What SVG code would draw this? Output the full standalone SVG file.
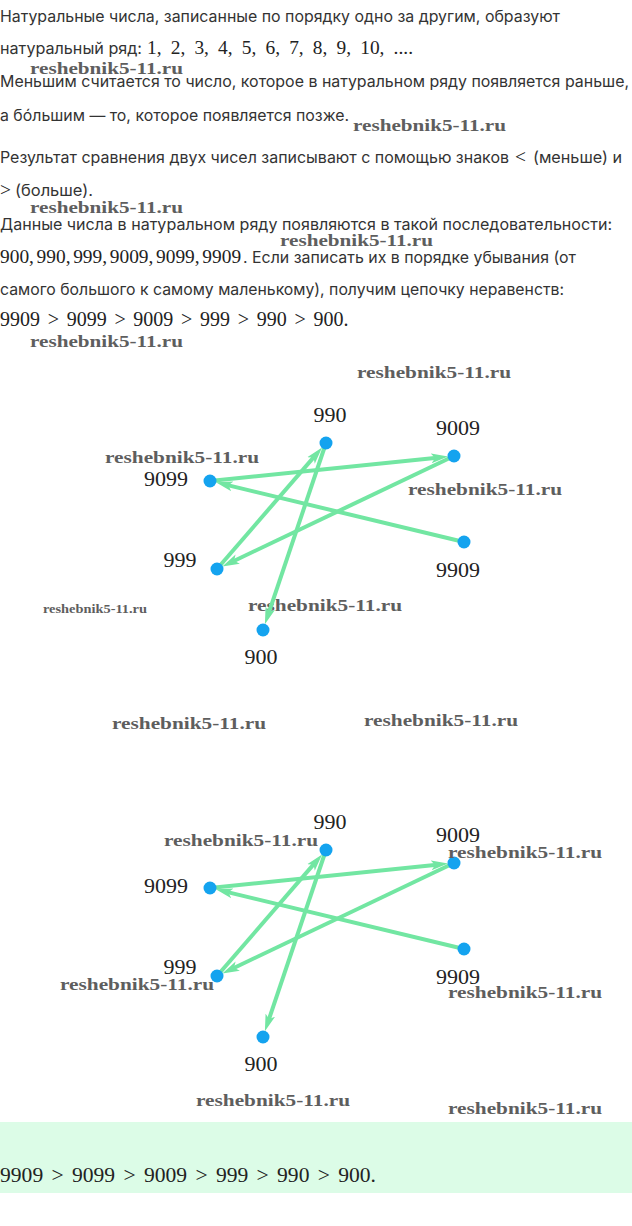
<svg xmlns="http://www.w3.org/2000/svg" width="632" height="1226" viewBox="0 0 632 1226">
<style>
.t{font-family:Inter,"Noto Sans",sans-serif;font-size:16px;fill:#333}
.m{font-family:"Liberation Serif","DejaVu Serif",serif;font-size:19.4px;fill:#222}
.w{font-family:"Liberation Serif","DejaVu Serif",serif;font-size:17px;font-weight:bold;fill:#5e5e5e}
.lbl{font-family:"Liberation Serif","DejaVu Serif",serif;font-size:22px;fill:#222;text-anchor:middle}
.dot{fill:#14a3ef}
.edge{stroke:#72e6a2;stroke-width:4;fill:none;marker-end:url(#ah)}
</style>
<defs>
<marker id="ah" markerUnits="userSpaceOnUse" markerWidth="20" markerHeight="12" refX="6" refY="6" orient="auto">
<path d="M0,1 L17,6 L0,11 L4,6 z" fill="#72e6a2"/>
</marker>
</defs>
<rect width="632" height="1226" fill="#fff"/>

<g id="text">
<text class="t" x="0" y="22" textLength="560" lengthAdjust="spacingAndGlyphs">Натуральные числа, записанные по порядку одно за другим, образуют</text>
<text class="t" x="0" y="54" textLength="142" lengthAdjust="spacingAndGlyphs">натуральный ряд:</text>
<text class="m" x="147" y="54" style="word-spacing:4.3px">1, 2, 3, 4, 5, 6, 7, 8, 9, 10, ....</text>
<text class="t" x="0" y="87" textLength="629" lengthAdjust="spacingAndGlyphs">Меньшим считается то число, которое в натуральном ряду появляется раньше,</text>
<text class="t" x="0" y="121" textLength="349" lengthAdjust="spacingAndGlyphs">а бо́льшим — то, которое появляется позже.</text>
<text class="t" x="0" y="163" textLength="509" lengthAdjust="spacingAndGlyphs">Результат сравнения двух чисел записывают с помощью знаков</text>
<text class="m" x="515" y="163">&lt;</text>
<text class="t" x="533" y="163" textLength="89" lengthAdjust="spacingAndGlyphs">(меньше) и</text>
<text class="m" x="0" y="196">&gt;</text>
<text class="t" x="15" y="196" textLength="78" lengthAdjust="spacingAndGlyphs">(больше).</text>
<text class="t" x="0" y="230" textLength="612" lengthAdjust="spacingAndGlyphs">Данные числа в натуральном ряду появляются в такой последовательности:</text>
<text class="m" x="0" y="263" style="word-spacing:-2.2px">900, 990, 999, 9009, 9099, 9909</text>
<text class="t" x="243" y="263" textLength="333" lengthAdjust="spacingAndGlyphs">. Если записать их в порядке убывания (от</text>
<text class="t" x="0" y="295" textLength="564" lengthAdjust="spacingAndGlyphs">самого большого к самому маленькому), получим цепочку неравенств:</text>
<text class="m" x="0" y="326" style="font-size:20px;word-spacing:2.7px">9909 &gt; 9099 &gt; 9009 &gt; 999 &gt; 990 &gt; 900.</text>
</g>

<g id="watermarks">
<text class="w" x="30" y="74" textLength="153" lengthAdjust="spacingAndGlyphs">reshebnik5-11.ru</text>
<text class="w" x="353" y="131" textLength="153" lengthAdjust="spacingAndGlyphs">reshebnik5-11.ru</text>
<text class="w" x="30" y="213" textLength="153" lengthAdjust="spacingAndGlyphs">reshebnik5-11.ru</text>
<text class="w" x="280" y="246" textLength="153" lengthAdjust="spacingAndGlyphs">reshebnik5-11.ru</text>
<text class="w" x="30" y="347" textLength="153" lengthAdjust="spacingAndGlyphs">reshebnik5-11.ru</text>
<text class="w" x="357" y="378" textLength="154" lengthAdjust="spacingAndGlyphs">reshebnik5-11.ru</text>
<text class="w" x="105" y="463" textLength="154" lengthAdjust="spacingAndGlyphs">reshebnik5-11.ru</text>
<text class="w" x="408" y="495" textLength="154" lengthAdjust="spacingAndGlyphs">reshebnik5-11.ru</text>
<text class="w" x="43" y="613" textLength="104" lengthAdjust="spacingAndGlyphs" style="font-size:11.5px">reshebnik5-11.ru</text>
<text class="w" x="248" y="611" textLength="154" lengthAdjust="spacingAndGlyphs">reshebnik5-11.ru</text>
<text class="w" x="112" y="729" textLength="154" lengthAdjust="spacingAndGlyphs">reshebnik5-11.ru</text>
<text class="w" x="364" y="726" textLength="154" lengthAdjust="spacingAndGlyphs">reshebnik5-11.ru</text>
</g>

<g id="diagram1">
<g id="connectors1">
<line class="edge" x1="464" y1="542" x2="226.5" y2="484.9"/>
<line class="edge" x1="210" y1="481" x2="437.1" y2="457.7"/>
<line class="edge" x1="454" y1="456" x2="232.3" y2="561.7"/>
<line class="edge" x1="217" y1="569" x2="314.9" y2="455.9"/>
<line class="edge" x1="326" y1="443" x2="268.4" y2="613.9"/>
</g>
<g id="n1-990"><circle class="dot" cx="326" cy="443" r="6.5"/><text class="lbl" x="330" y="422">990</text></g>
<g id="n1-9009"><circle class="dot" cx="454" cy="456" r="6.5"/><text class="lbl" x="458" y="435">9009</text></g>
<g id="n1-9099"><circle class="dot" cx="210" cy="481" r="6.5"/><text class="lbl" x="166" y="486">9099</text></g>
<g id="n1-999"><circle class="dot" cx="217" cy="569" r="6.5"/><text class="lbl" x="180" y="567">999</text></g>
<g id="n1-9909"><circle class="dot" cx="464" cy="542" r="6.5"/><text class="lbl" x="458" y="577">9909</text></g>
<g id="n1-900"><circle class="dot" cx="263" cy="630" r="6.5"/><text class="lbl" x="261" y="664">900</text></g>
</g>

<g id="diagram2" transform="translate(0,407)">
<g id="connectors2">
<line class="edge" x1="464" y1="542" x2="226.5" y2="484.9"/>
<line class="edge" x1="210" y1="481" x2="437.1" y2="457.7"/>
<line class="edge" x1="454" y1="456" x2="232.3" y2="561.7"/>
<line class="edge" x1="217" y1="569" x2="314.9" y2="455.9"/>
<line class="edge" x1="326" y1="443" x2="268.4" y2="613.9"/>
</g>
<g id="n2-990"><circle class="dot" cx="326" cy="443" r="6.5"/><text class="lbl" x="330" y="422">990</text></g>
<g id="n2-9009"><circle class="dot" cx="454" cy="456" r="6.5"/><text class="lbl" x="458" y="435">9009</text></g>
<g id="n2-9099"><circle class="dot" cx="210" cy="481" r="6.5"/><text class="lbl" x="166" y="486">9099</text></g>
<g id="n2-999"><circle class="dot" cx="217" cy="569" r="6.5"/><text class="lbl" x="180" y="567">999</text></g>
<g id="n2-9909"><circle class="dot" cx="464" cy="542" r="6.5"/><text class="lbl" x="458" y="577">9909</text></g>
<g id="n2-900"><circle class="dot" cx="263" cy="630" r="6.5"/><text class="lbl" x="261" y="664">900</text></g>
</g>

<g id="watermarks2">
<text class="w" x="164" y="846" textLength="154" lengthAdjust="spacingAndGlyphs">reshebnik5-11.ru</text>
<text class="w" x="448" y="858" textLength="154" lengthAdjust="spacingAndGlyphs">reshebnik5-11.ru</text>
<text class="w" x="60" y="990" textLength="154" lengthAdjust="spacingAndGlyphs">reshebnik5-11.ru</text>
<text class="w" x="448" y="998" textLength="154" lengthAdjust="spacingAndGlyphs">reshebnik5-11.ru</text>
<text class="w" x="196" y="1106" textLength="154" lengthAdjust="spacingAndGlyphs">reshebnik5-11.ru</text>
<text class="w" x="448" y="1114" textLength="154" lengthAdjust="spacingAndGlyphs">reshebnik5-11.ru</text>
</g>

<g id="answer">
<rect x="0" y="1122" width="632" height="71" fill="#dcfce7"/>
<text class="m" x="0" y="1182" style="font-size:21.6px;word-spacing:2.9px">9909 &gt; 9099 &gt; 9009 &gt; 999 &gt; 990 &gt; 900.</text>
</g>
</svg>
